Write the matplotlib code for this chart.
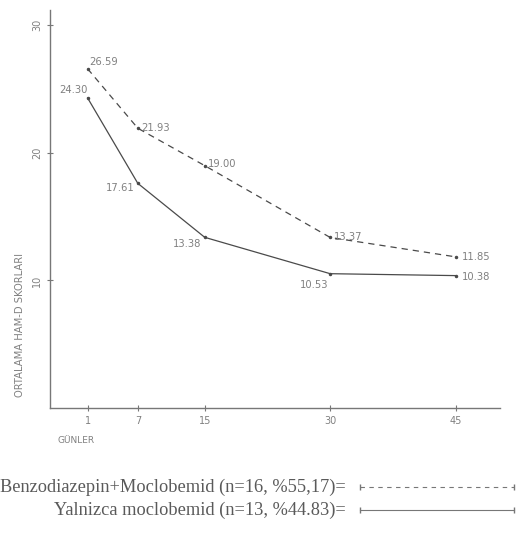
import matplotlib.pyplot as plt
from matplotlib.lines import Line2D

days = [1, 7, 15, 30, 45]
combo = [26.59, 21.93, 19.00, 13.37, 11.85]   # Benzodiazepin+Moclobemid
mono = [24.30, 17.61, 13.38, 10.53, 10.38]    # Yalnizca moclobemid
combo_lbl = ["26.59", "21.93", "19.00", "13.37", "11.85"]
mono_lbl = ["24.30", "17.61", "13.38", "10.53", "10.38"]
yticks = [10, 20, 30]

ink = "#4a4a4a"
txt = "#808080"

fig = plt.figure(figsize=(5.22, 5.41), dpi=100)
ax = fig.add_axes([0.0958, 0.2458, 0.862, 0.7357])

ax.plot(days, combo, color=ink, lw=0.9, ls=(0, (5, 4)), marker='.', ms=3)
ax.plot(days, mono, color=ink, lw=0.9, marker='.', ms=3)

# value labels (offsets in pixels)
combo_off = [(2, 4), (3, -3), (3, -1), (4, -3), (6, -3)]
mono_off = [(-28, 5), (-32, -8), (-32, -10), (-30, -14), (6, -4)]
for x, y, s, o in zip(days, combo, combo_lbl, combo_off):
    ax.annotate(s, (x, y), xytext=o, textcoords='offset pixels', fontsize=7.2, color=txt)
for x, y, s, o in zip(days, mono, mono_lbl, mono_off):
    ax.annotate(s, (x, y), xytext=o, textcoords='offset pixels', fontsize=7.2, color=txt)

ax.set_xlim(-3.5, 50.3)
ax.set_ylim(0, 31.2)
ax.spines['top'].set_visible(False)
ax.spines['right'].set_visible(False)
for sp in ['left', 'bottom']:
    ax.spines[sp].set_color("#777777")
    ax.spines[sp].set_linewidth(1.0)
ax.set_xticks(days)
ax.set_xticklabels([str(d) for d in days])
ax.set_yticks(yticks)
ax.set_yticklabels([str(t) for t in yticks], rotation=90, va='center')
ax.tick_params(direction='inout', length=5, width=0.8, color="#777777",
               labelsize=7, labelcolor=txt, pad=3)

fig.text(0.038, 0.40, "ORTALAMA HAM-D SKORLARI", rotation=90, fontsize=7.2,
         color=txt, ha='center', va='center')
fig.text(0.11, 0.185, "GÜNLER", fontsize=6.5, color=txt, ha='left', va='center')

# legend
legend_rows = [("Benzodiazepin+Moclobemid (n=16, %55,17)=", (0, (4, 4)), 0.0998),
               ("Yalnizca moclobemid (n=13, %44.83)=", '-', 0.0573)]
for label, style, yy in legend_rows:
    fig.text(0.662, yy, label, fontsize=13.2, family='Liberation Serif', color="#5a5a5a",
             ha='right', va='center')
    fig.add_artist(Line2D([0.69, 0.985], [yy, yy], transform=fig.transFigure,
                          color="#777777", lw=0.8, ls=style))
    fig.add_artist(Line2D([0.69, 0.985], [yy, yy], transform=fig.transFigure,
                          color="#777777", lw=0, marker='|', ms=5))

fig.savefig("out.png", dpi=100)
